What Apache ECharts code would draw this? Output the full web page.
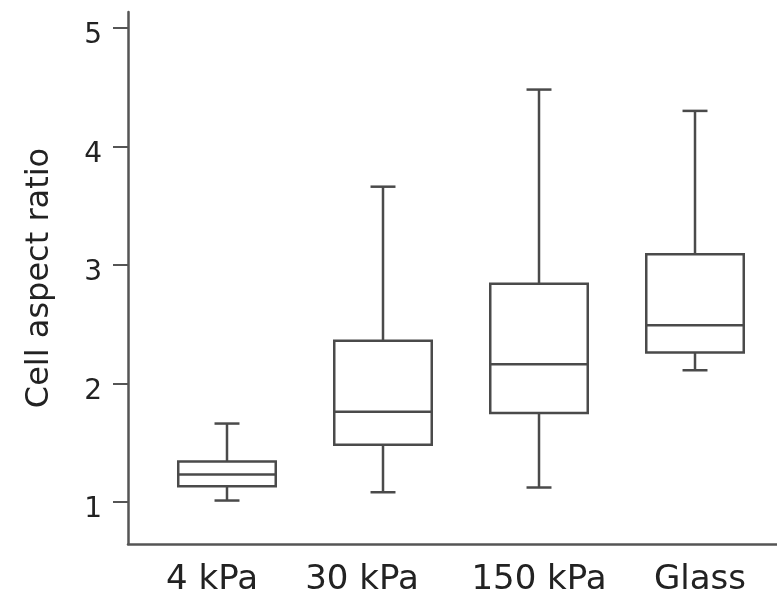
<!DOCTYPE html>
<html>
<head>
<meta charset="utf-8">
<title>Cell aspect ratio</title>
<script src="https://cdn.jsdelivr.net/npm/echarts@6/dist/echarts.min.js"></script>
<style>
  html, body { margin: 0; padding: 0; background: #fff; }
  #chart { width: 777px; height: 600px; }
</style>
</head>
<body>
<div id="chart"></div>
<script>
  // values
  const categories = ['4 kPa', '30 kPa', '150 kPa', 'Glass']
  const whiskerLow = [1.01, 1.08, 1.12, 2.11]
  const quartile1 = [1.13, 1.48, 1.75, 2.26]
  const medians = [1.23, 1.76, 2.16, 2.49]
  const quartile3 = [1.34, 2.36, 2.84, 3.09]
  const whiskerHigh = [1.66, 3.66, 4.48, 4.30]
  const yTicks = [1, 2, 3, 4, 5]
  const xPositions = [0, 1, 2, 3]

  const boxData = categories.map((c, i) => [
    xPositions[i], whiskerLow[i], quartile1[i], medians[i], quartile3[i], whiskerHigh[i]
  ])

  const ink = '#4a4a4a'
  const textInk = '#222'
  const font = 'DejaVu Sans'

  // the original labels sit a bit off-centre under the first two boxes
  const labelText = { fontFamily: font, fontSize: 34, color: textInk }
  const labelRich = {
    l0: { ...labelText, padding: [0, 30, 0, 0] },
    l1: { ...labelText, padding: [0, 42, 0, 0] },
    l2: { ...labelText },
    l3: { ...labelText, padding: [0, 0, 0, 10] }
  }
  // y tick numbers sit slightly below their ticks
  const tickText = { fontFamily: font, fontSize: 28, color: textInk }

  function renderBox (params, api) {
    const x = api.value(0)
    const lo = api.coord([x, api.value(1)])
    const q1 = api.coord([x, api.value(2)])
    const med = api.coord([x, api.value(3)])
    const q3 = api.coord([x, api.value(4)])
    const hi = api.coord([x, api.value(5)])
    const half = api.size([0.625, 0])[0] / 2
    const cap = api.size([0.16, 0])[0] / 2
    const cx = q1[0]
    const style = { stroke: ink, lineWidth: 2.5, fill: null }
    const line = (x1, y1, x2, y2) => ({
      type: 'line', shape: { x1, y1, x2, y2 }, style
    })
    return {
      type: 'group',
      children: [
        line(cx, hi[1], cx, q3[1]),
        line(cx, q1[1], cx, lo[1]),
        line(cx - cap, hi[1], cx + cap, hi[1]),
        line(cx - cap, lo[1], cx + cap, lo[1]),
        {
          type: 'rect',
          shape: { x: cx - half, y: q3[1], width: half * 2, height: q1[1] - q3[1] },
          style
        },
        line(cx - half, med[1], cx + half, med[1])
      ]
    }
  }

  const chart = echarts.init(document.getElementById('chart'))
  chart.setOption({
    animation: false,
    backgroundColor: '#fff',
    grid: {
      left: 128,
      right: 0,
      top: 12,
      bottom: 56,
      outerBoundsMode: 'none'
    },
    xAxis: {
      type: 'value',
      min: -0.6346,
      max: 3.5256,
      axisLine: { show: true, onZero: false, lineStyle: { color: '#555', width: 2.5 } },
      axisTick: { show: false },
      splitLine: { show: false },
      axisLabel: {
        customValues: xPositions,
        formatter: v => {
          const i = Math.round(v)
          return '{l' + i + '|' + categories[i] + '}'
        },
        rich: labelRich,
        margin: 19,
        ...labelText
      }
    },
    yAxis: {
      type: 'value',
      min: 0.643,
      max: 5.135,
      name: 'Cell aspect ratio',
      nameLocation: 'middle',
      nameGap: 72,
      nameTextStyle: { fontFamily: font, fontSize: 32, color: textInk },
      axisLine: { show: true, onZero: false, lineStyle: { color: '#555', width: 2.5 } },
      axisTick: {
        show: true,
        customValues: yTicks,
        length: 15,
        lineStyle: { color: '#555', width: 2 }
      },
      splitLine: { show: false },
      axisLabel: {
        customValues: yTicks,
        formatter: v => '{n|' + Math.round(v) + '}',
        rich: { n: { ...tickText, padding: [16, 0, 0, 0] } },
        margin: 26,
        ...tickText
      }
    },
    series: [
      {
        type: 'custom',
        renderItem: renderBox,
        encode: { x: 0, y: [1, 2, 3, 4, 5] },
        data: boxData
      }
    ]
  })
  window.addEventListener('resize', () => chart.resize())
</script>
</body>
</html>
